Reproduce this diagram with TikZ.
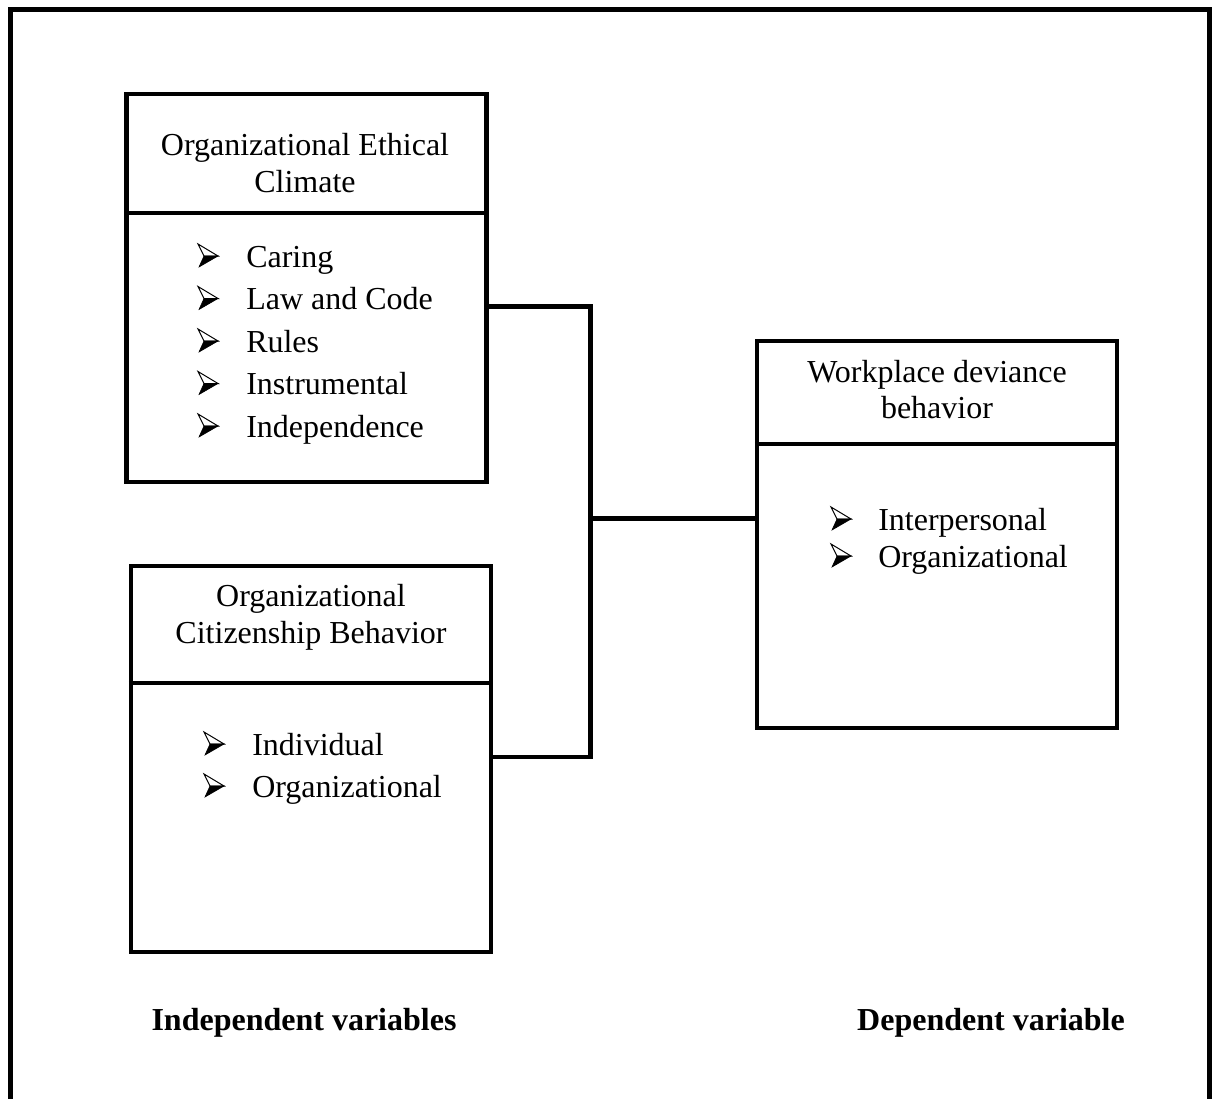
\documentclass[tikz,border=0pt]{standalone}
\usepackage{fontspec}
\setmainfont{Liberation Serif}
\begin{document}
\begin{tikzpicture}[x=1pt,y=-1pt,
  line width=4.5pt,
  box/.style={draw, rectangle, inner sep=0pt, minimum width=360pt},
  txt/.style={font=\fontsize{32}{37}\selectfont, inner sep=0pt, text height=22pt, text depth=7pt},
  head/.style={txt, align=center, anchor=center},
  item/.style={txt, anchor=base west},
  lab/.style={txt, font=\fontsize{32}{37}\selectfont\bfseries, anchor=base},
  bularrow/.pic={
    \draw[line width=1pt, line join=miter] (0,-12) -- (20,0) -- (6,0) -- cycle;
    \fill[line width=0.6pt, draw, line join=miter] (6,0) -- (20,0) -- (1,11) -- cycle;
  }
]
\useasboundingbox (0,0) rectangle (1214,1099);
% outer frame
\draw (10.5,1120) -- (10.5,9.5) -- (1209.5,9.5) -- (1209.5,1120);

% boxes
\node[box, minimum height=388pt] (b1) at (306.5,288) {};
\node[box, minimum height=386pt] (b2) at (311,759) {};
\node[box, minimum height=387pt] (b3) at (937,534.5) {};

% header dividers
\draw (b1.west |- 0,213) -- (b1.east |- 0,213);
\draw (b2.west |- 0,683) -- (b2.east |- 0,683);
\draw (b3.west |- 0,444) -- (b3.east |- 0,444);

% headers
\node[head] (h1a) at (305,148) {Organizational Ethical};
\node[head] (h1b) at (305,185) {Climate};
\node[head] (h2a) at (311,599) {Organizational};
\node[head] (h2b) at (311,636) {Citizenship Behavior};
\node[head] (h3a) at (937,375) {Workplace deviance};
\node[head] (h3b) at (937,411) {behavior};

% items box 1
\foreach \yy/\t [count=\i] in {267/Caring, 309.5/Law and Code, 352/Rules, 394.5/Instrumental, 437/Independence}{
  \pic at (198,\yy-11) {bularrow};
  \node[item] (i1\i) at (244,\yy) {\t};
}
% items box 2
\foreach \yy/\t [count=\i] in {755/Individual, 797/Organizational}{
  \pic at (204,\yy-11) {bularrow};
  \node[item] (i2\i) at (250,\yy) {\t};
}
% items box 3
\foreach \yy/\t [count=\i] in {530/Interpersonal, 567/Organizational}{
  \pic at (831,\yy-11) {bularrow};
  \node[item] (i3\i) at (876,\yy) {\t};
}

% connectors
\coordinate (j1) at (590.5,306.5);
\coordinate (j2) at (590.5,757);
\coordinate (jm) at (590.5,518.5);
\draw[line cap=rect] (b1.east |- j1) -- (j1) -- (j2) -- (b2.east |- j2);
\draw (jm) -- (b3.west |- jm);

% bottom labels
\node[lab] (l1) at (304,1030) {Independent variables};
\node[lab] (l2) at (991,1030) {Dependent variable};
\end{tikzpicture}
\end{document}
